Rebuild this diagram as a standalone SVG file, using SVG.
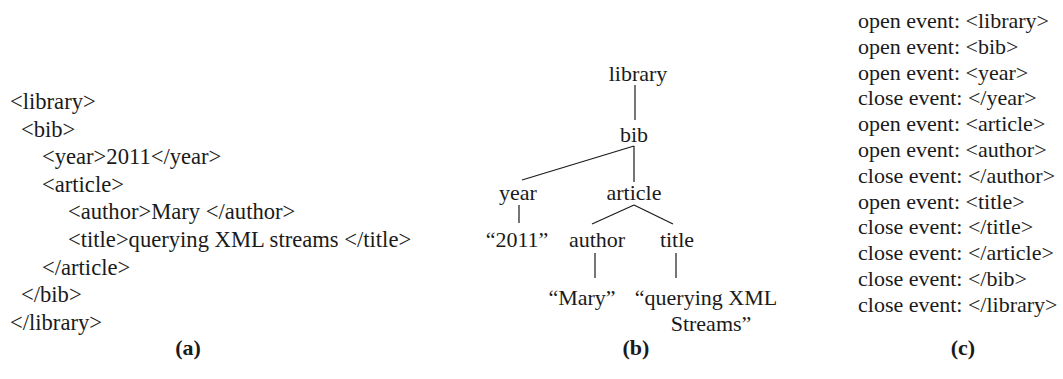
<svg xmlns="http://www.w3.org/2000/svg" width="1063" height="379" viewBox="0 0 1063 379">
  <style>
    text { font-family: "Liberation Serif", "Times New Roman", serif; fill: #1a1a1a; font-size: 22px; }
    .code { font-size: 22.6px; }
    .node { text-anchor: middle; }
    .cap { font-weight: bold; text-anchor: middle; }
    .edge { stroke: #1a1a1a; stroke-width: 1.2; fill: none; }
  </style>
  <rect width="1063" height="379" fill="#ffffff"/>

  <!-- (a) XML document -->
  <g id="xml-source">
    <text class="code" x="10" y="109">&lt;library&gt;</text>
    <text class="code" x="21" y="137">&lt;bib&gt;</text>
    <text class="code" x="42" y="164">&lt;year&gt;2011&lt;/year&gt;</text>
    <text class="code" x="42" y="192">&lt;article&gt;</text>
    <text class="code" x="68" y="219">&lt;author&gt;Mary &lt;/author&gt;</text>
    <text class="code" x="68" y="247">&lt;title&gt;querying XML streams &lt;/title&gt;</text>
    <text class="code" x="42" y="275">&lt;/article&gt;</text>
    <text class="code" x="21" y="302">&lt;/bib&gt;</text>
    <text class="code" x="10" y="330">&lt;/library&gt;</text>
  </g>

  <!-- (b) tree connectors -->
  <g id="connectors">
    <line class="edge" x1="635" y1="85" x2="635" y2="120"/>
    <line class="edge" x1="634" y1="146" x2="522" y2="180"/>
    <line class="edge" x1="634" y1="146" x2="634" y2="182"/>
    <line class="edge" x1="519" y1="205" x2="519" y2="223"/>
    <line class="edge" x1="634" y1="205" x2="592" y2="224"/>
    <line class="edge" x1="634" y1="205" x2="673" y2="224"/>
    <line class="edge" x1="595" y1="253" x2="595" y2="278"/>
    <line class="edge" x1="676" y1="253" x2="676" y2="278"/>
  </g>

  <!-- (b) tree nodes -->
  <g id="n-library"><text class="node" x="638" y="81">library</text></g>
  <g id="n-bib"><text class="node" x="634" y="142">bib</text></g>
  <g id="n-year"><text class="node" x="518" y="200">year</text></g>
  <g id="n-article"><text class="node" x="634" y="200">article</text></g>
  <g id="n-2011"><text class="node" x="517" y="247">“2011”</text></g>
  <g id="n-author"><text class="node" x="597" y="247">author</text></g>
  <g id="n-title"><text class="node" x="677" y="247">title</text></g>
  <g id="n-mary"><text class="node" x="582" y="305">“Mary”</text></g>
  <g id="n-querying">
    <text class="node" x="706" y="305">“querying XML</text>
    <text class="node" x="711" y="331">Streams”</text>
  </g>

  <!-- (c) event stream -->
  <g id="events">
    <text x="858" y="28">open event: &lt;library&gt;</text>
    <text x="858" y="54">open event: &lt;bib&gt;</text>
    <text x="858" y="80">open event: &lt;year&gt;</text>
    <text x="858" y="105">close event: &lt;/year&gt;</text>
    <text x="858" y="131">open event: &lt;article&gt;</text>
    <text x="858" y="157">open event: &lt;author&gt;</text>
    <text x="858" y="183">close event: &lt;/author&gt;</text>
    <text x="858" y="209">open event: &lt;title&gt;</text>
    <text x="858" y="234">close event: &lt;/title&gt;</text>
    <text x="858" y="260">close event: &lt;/article&gt;</text>
    <text x="858" y="286">close event: &lt;/bib&gt;</text>
    <text x="858" y="312">close event: &lt;/library&gt;</text>
  </g>

  <!-- panel captions -->
  <text class="cap" x="188" y="355">(a)</text>
  <text class="cap" x="636" y="355">(b)</text>
  <text class="cap" x="963" y="355">(c)</text>
</svg>
